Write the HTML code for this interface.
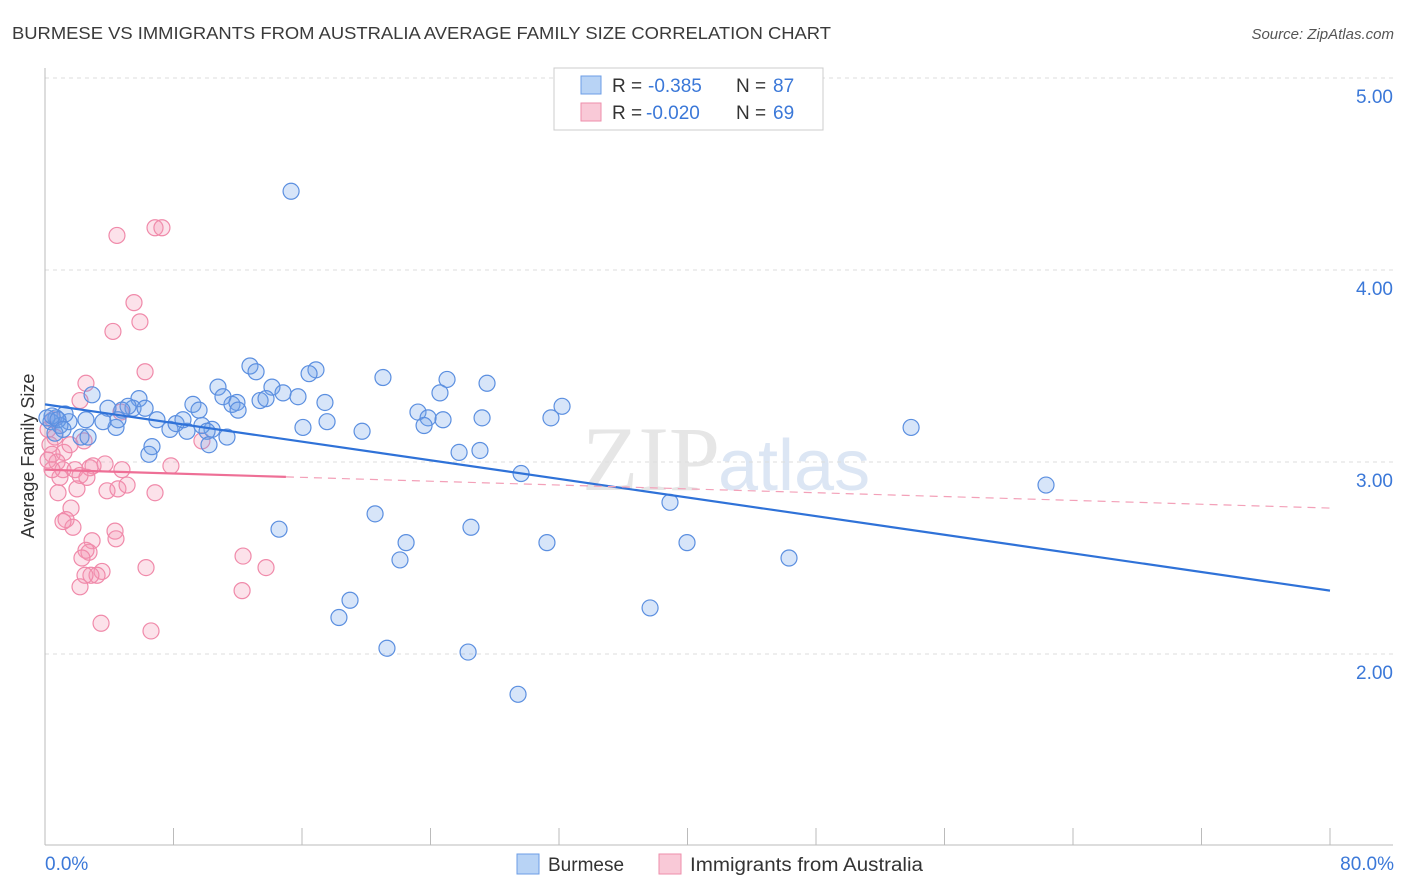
<!DOCTYPE html>
<html><head><meta charset="utf-8"><style>
body{margin:0;background:#fff;font-family:"Liberation Sans",sans-serif;}
#wrap{position:relative;width:1406px;height:892px;overflow:hidden;}
</style></head><body>
<div id="wrap">
<svg id="chart" width="1406" height="892" style="position:absolute;left:0;top:0">
<text x="12" y="39" font-size="17.5" fill="#3a3a3a" textLength="819" lengthAdjust="spacingAndGlyphs">BURMESE VS IMMIGRANTS FROM AUSTRALIA AVERAGE FAMILY SIZE CORRELATION CHART</text>
<text x="1394" y="39" font-size="15" fill="#555" font-style="italic" text-anchor="end">Source: ZipAtlas.com</text>
<text x="720" y="490" font-size="92" fill="#e6e6e6" text-anchor="end" font-family="Liberation Serif">ZIP</text>
<text x="718" y="490" font-size="72" fill="#dce6f4">atlas</text>
<g id="grid"></g><g id="axes"></g><g id="pts"></g><g id="trend"></g>
<text transform="translate(34,456) rotate(-90)" font-size="18" fill="#333" text-anchor="middle">Average Family Size</text>
<g>
<rect x="554" y="68" width="269" height="62" fill="#fff" stroke="#ccc"/>
<rect x="581" y="76" width="20" height="18" fill="#b8d3f5" stroke="#6c9ee6"/>
<text x="612" y="92" font-size="19" fill="#333">R =</text>
<text x="648" y="92" font-size="19" fill="#3b78d8">-0.385</text>
<text x="736" y="92" font-size="19" fill="#333">N =</text>
<text x="773" y="92" font-size="19" fill="#3b78d8">87</text>
<rect x="581" y="103" width="20" height="18" fill="#f9c9d7" stroke="#ee8eab"/>
<text x="612" y="119" font-size="19" fill="#333">R =</text>
<text x="646" y="119" font-size="19" fill="#3b78d8">-0.020</text>
<text x="736" y="119" font-size="19" fill="#333">N =</text>
<text x="773" y="119" font-size="19" fill="#3b78d8">69</text>
</g>
<g>
<rect x="517" y="854" width="22" height="20" fill="#b8d3f5" stroke="#6c9ee6"/>
<text x="548" y="871" font-size="19" fill="#333">Burmese</text>
<rect x="659" y="854" width="22" height="20" fill="#f9c9d7" stroke="#ee8eab"/>
<text x="690" y="871" font-size="19" fill="#333" textLength="233" lengthAdjust="spacingAndGlyphs">Immigrants from Australia</text>
</g>
<text x="45" y="870" font-size="19" fill="#3b78d8">0.0%</text>
<text x="1394" y="870" font-size="19" fill="#3b78d8" text-anchor="end">80.0%</text>
</svg>
</div>
<script>
const yTicks=[5,4,3,2];
const yTickLabels=["5.00","4.00","3.00","2.00"];
const xTicks=[0,8,16,24,32,40,48,56,64,72,80];
const blueX=[15.32,12.76,13.14,16.87,16.44,21.04,25.03,27.52,24.59,10.77,14.13,14.82,11.08,15.75,9.21,11.64,11.95,13.39,13.76,17.43,12.02,9.59,32.19,23.22,23.85,24.78,23.60,27.21,31.50,17.56,16.06,19.74,10.40,11.33,8.84,7.78,8.16,6.97,8.59,9.77,10.09,5.85,5.48,5.17,6.23,4.79,3.92,4.42,4.54,3.61,2.93,2.55,2.24,2.68,1.49,1.25,0.93,0.68,0.37,0.12,0.62,6.66,6.47,10.21,25.78,27.08,29.64,38.91,53.92,62.32,20.55,14.57,26.52,22.48,22.10,31.25,39.97,46.32,18.99,18.30,37.67,21.29,26.34,29.45,0.44,0.81,1.12];
const blueY=[4.41,3.50,3.47,3.48,3.46,3.44,3.43,3.41,3.36,3.39,3.39,3.36,3.34,3.34,3.30,3.30,3.31,3.32,3.33,3.31,3.27,3.27,3.29,3.26,3.23,3.22,3.19,3.23,3.23,3.21,3.18,3.16,3.17,3.13,3.16,3.17,3.20,3.22,3.22,3.19,3.16,3.33,3.28,3.29,3.28,3.27,3.28,3.18,3.22,3.21,3.35,3.22,3.13,3.13,3.21,3.25,3.19,3.23,3.21,3.23,3.15,3.08,3.04,3.09,3.05,3.06,2.94,2.79,3.18,2.88,2.73,2.65,2.66,2.58,2.49,2.58,2.58,2.50,2.28,2.19,2.24,2.03,2.01,1.79,3.24,3.22,3.17];
const pinkX=[4.48,6.85,7.28,5.54,5.91,4.23,6.23,2.55,2.18,4.73,0.50,0.19,0.31,0.62,0.44,1.18,0.75,1.56,2.43,1.12,1.87,2.18,2.80,2.99,3.74,4.79,7.84,9.77,2.61,0.93,0.81,1.99,3.86,4.54,5.11,6.85,1.62,1.31,1.74,1.12,4.36,4.42,2.93,2.74,2.55,2.30,12.33,13.76,6.29,3.55,3.24,2.86,2.49,2.18,12.27,3.49,6.60,0.19,0.44];
const pinkY=[4.18,4.22,4.22,3.83,3.73,3.68,3.47,3.41,3.32,3.26,3.22,3.17,3.09,3.13,3.04,3.05,3.00,3.09,3.11,2.96,2.96,2.93,2.97,2.98,2.99,2.96,2.98,3.11,2.92,2.92,2.84,2.86,2.85,2.86,2.88,2.84,2.76,2.70,2.66,2.69,2.64,2.60,2.59,2.53,2.54,2.50,2.51,2.45,2.45,2.43,2.41,2.41,2.41,2.35,2.33,2.16,2.12,3.01,2.96];
const blueTrend=[3.30,2.33];
const pinkTrend=[2.96,2.76];
const pinkSolidEnd=15;
const NS="http://www.w3.org/2000/svg";
function xs(v){return 45+v*(1285/80);}
function ys(v){return 654-(v-2)*192;}
function mk(tag,attrs,parent){const e=document.createElementNS(NS,tag);for(const k in attrs)e.setAttribute(k,attrs[k]);parent.appendChild(e);return e;}
const grid=document.getElementById('grid'),axes=document.getElementById('axes'),pts=document.getElementById('pts'),trend=document.getElementById('trend');
yTicks.forEach((t,i)=>{
 const l=mk('line',{x1:45,x2:1393,y1:ys(t),y2:ys(t),stroke:'#ddd','stroke-dasharray':'4,4'},grid);
 
 
 const tx=mk('text',{x:1393,y:ys(t)+25,'font-size':19,fill:'#3b78d8','text-anchor':'end'},grid);
 tx.textContent=yTickLabels[i];
 
 
});
const ya=mk('line',{x1:45,x2:45,y1:68,y2:845,stroke:'#bbb'},axes);


const xa=mk('line',{x1:45,x2:1393,y1:845,y2:845,stroke:'#bbb'},axes);


xTicks.forEach(t=>{
 const l=mk('line',{x1:xs(t),x2:xs(t),y1:828,y2:845,stroke:'#bbb'},axes);
 
 
});
function dots(X,Y,fill,stroke,name){
 X.forEach((x,i)=>{
  const c=mk('circle',{cx:xs(x),cy:ys(Y[i]),r:8,fill:fill,stroke:stroke,'stroke-width':1.2},pts);
  
  
 });
}
dots(pinkX,pinkY,'rgba(244,150,180,0.28)','#f08aaa','australia-point');
dots(blueX,blueY,'rgba(110,160,235,0.28)','#5b8fe0','burmese-point');
const bt=mk('line',{x1:xs(0),y1:ys(blueTrend[0]),x2:xs(80),y2:ys(blueTrend[1]),stroke:'#2f72d8','stroke-width':2.2},trend);


const pAt=v=>pinkTrend[0]+(pinkTrend[1]-pinkTrend[0])*v/80;
const ps=mk('line',{x1:xs(0),y1:ys(pinkTrend[0]),x2:xs(pinkSolidEnd),y2:ys(pAt(pinkSolidEnd)),stroke:'#ee6f96','stroke-width':2.2},trend);


const pd=mk('line',{x1:xs(pinkSolidEnd),y1:ys(pAt(pinkSolidEnd)),x2:xs(80),y2:ys(pinkTrend[1]),stroke:'#f3a0b8','stroke-width':1.2,'stroke-dasharray':'8,6'},trend);


</script>
</body></html>
